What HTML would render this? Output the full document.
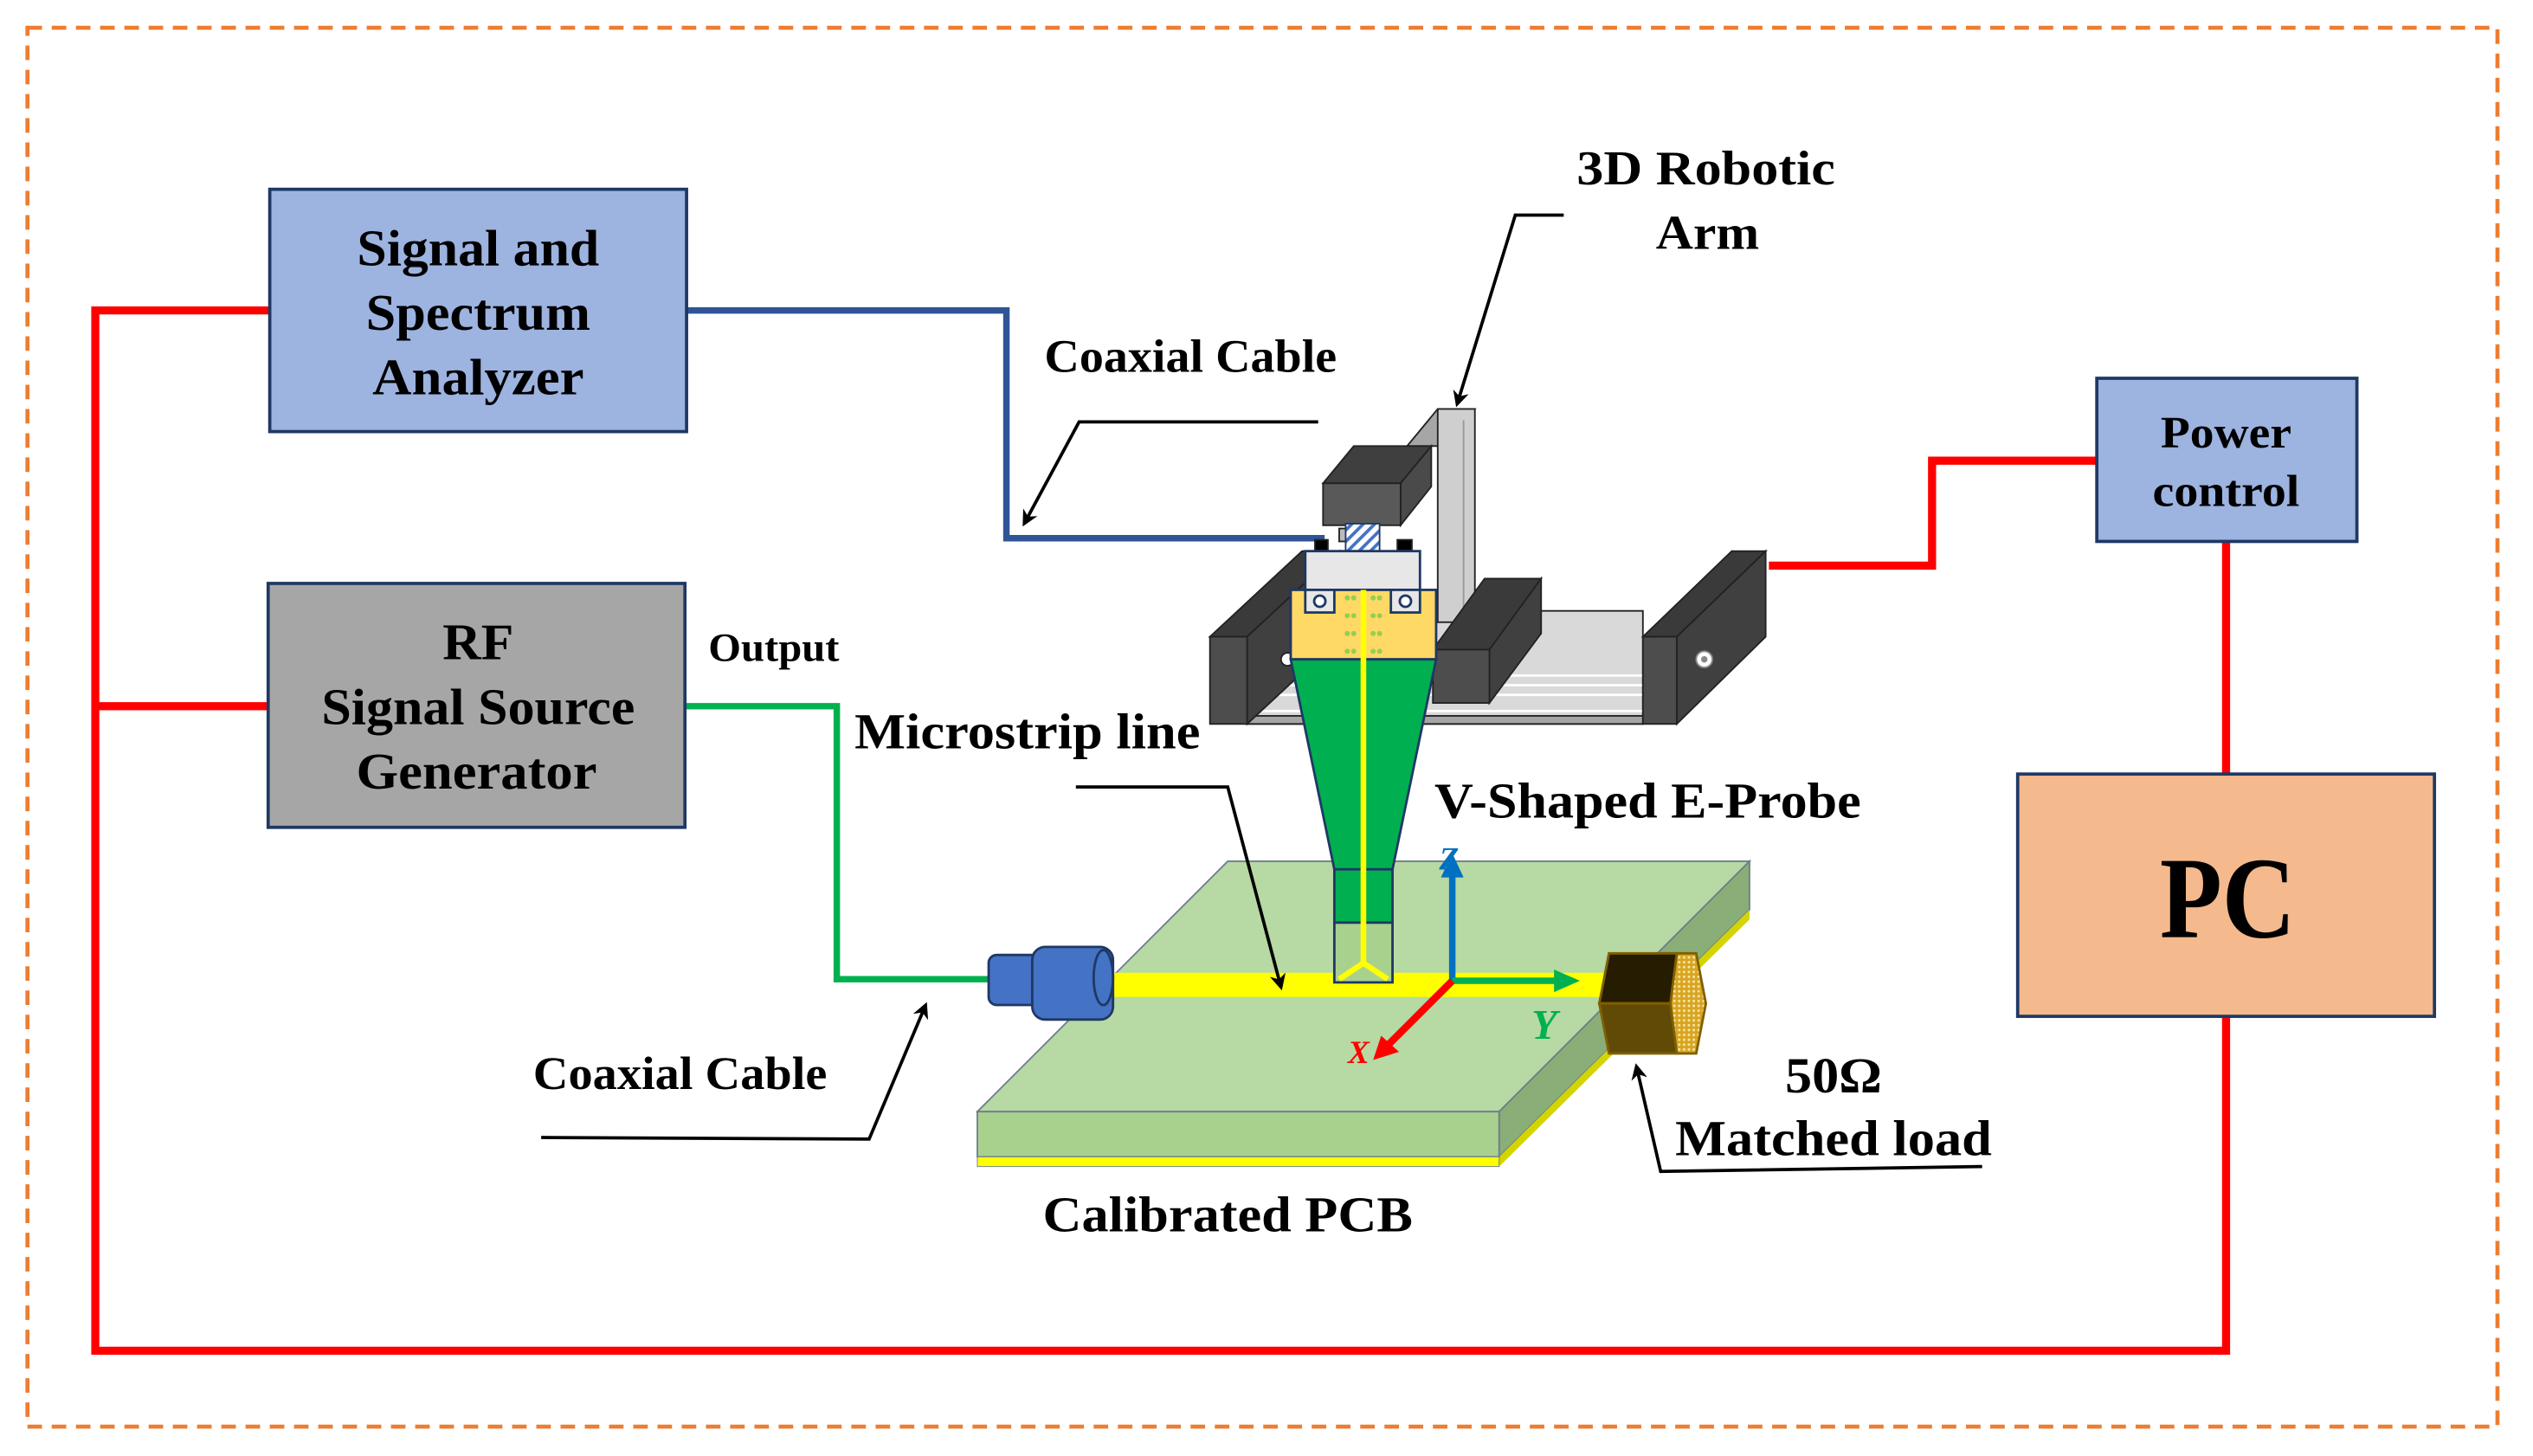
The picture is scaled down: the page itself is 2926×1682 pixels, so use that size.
<!DOCTYPE html>
<html><head><meta charset="utf-8"><style>
html,body{margin:0;padding:0;background:#fff}
svg{display:block}
text{font-family:"Liberation Serif",serif;font-weight:bold;fill:#000;text-anchor:middle}
</style></head><body>
<svg width="2926" height="1682" viewBox="0 0 1568 901" xmlns="http://www.w3.org/2000/svg">
<defs>
<marker id="ar" markerWidth="10" markerHeight="10" refX="8" refY="5" orient="auto" markerUnits="userSpaceOnUse"><path d="M0,0 L10,5 L0,10 L3,5 Z" fill="#000"/></marker>
<pattern id="hatch" width="5" height="5" patternUnits="userSpaceOnUse" patternTransform="rotate(45)"><rect width="5" height="5" fill="#fff"/><rect width="2" height="5" fill="#4472C4"/></pattern>
<pattern id="mesh" width="3" height="3" patternUnits="userSpaceOnUse"><rect width="3" height="3" fill="#D9A520"/><circle cx="1.5" cy="1.5" r="0.8" fill="#F5E3A8"/></pattern>
</defs>
<rect x="17" y="17" width="1529" height="866" fill="none" stroke="#ED7D31" stroke-width="2.5" stroke-dasharray="9,6"/>

<g fill="none" stroke="#FF0000" stroke-width="5">
<polyline points="167,192 59,192 59,836 1378,836 1378,629"/>
<line x1="59" y1="437" x2="166" y2="437"/>
<line x1="1378" y1="335" x2="1378" y2="479"/>
<polyline points="1298,285 1196,285 1196,350 1095,350"/>
</g>
<polyline points="425,192 623,192 623,333 820,333" fill="none" stroke="#2F5597" stroke-width="4"/>
<polyline points="424,437 518,437 518,606 614,606" fill="none" stroke="#00B050" stroke-width="4"/>

<rect x="167" y="117" width="258" height="150" fill="#9DB3E0" stroke="#1F3864" stroke-width="2"/>
<text x="296" y="164" font-size="32" textLength="150" lengthAdjust="spacingAndGlyphs">Signal and</text>
<text x="296" y="204" font-size="32" textLength="139" lengthAdjust="spacingAndGlyphs">Spectrum</text>
<text x="296" y="244" font-size="32" textLength="131" lengthAdjust="spacingAndGlyphs">Analyzer</text>
<rect x="166" y="361" width="258" height="151" fill="#A6A6A6" stroke="#1F3864" stroke-width="2"/>
<text x="296" y="408" font-size="32" textLength="44" lengthAdjust="spacingAndGlyphs">RF</text>
<text x="296" y="448" font-size="32" textLength="194" lengthAdjust="spacingAndGlyphs">Signal Source</text>
<text x="295" y="488" font-size="32" textLength="149" lengthAdjust="spacingAndGlyphs">Generator</text>
<rect x="1298" y="234" width="161" height="101" fill="#9DB3E0" stroke="#1F3864" stroke-width="2"/>
<text x="1378" y="277" font-size="28" textLength="81" lengthAdjust="spacingAndGlyphs">Power</text>
<text x="1378" y="313" font-size="28" textLength="91" lengthAdjust="spacingAndGlyphs">control</text>
<rect x="1249" y="479" width="258" height="150" fill="#F4B98D" stroke="#1F3864" stroke-width="2"/>
<text x="1379" y="580" font-size="72" textLength="84" lengthAdjust="spacingAndGlyphs">PC</text>

<g stroke="#222" stroke-width="1">
<polygon points="772,448 1017,448 1017,378 772,378" fill="#D9D9D9"/>
<g stroke="#fff" stroke-width="1.5"><line x1="772" y1="418" x2="1017" y2="418"/><line x1="772" y1="424" x2="1017" y2="424"/><line x1="772" y1="430" x2="1017" y2="430"/><line x1="772" y1="440" x2="1017" y2="440"/></g>
<rect x="772" y="443" width="245" height="5" fill="#A6A6A6"/>
<polygon points="749,394 806,341 829,341 772,394" fill="#3A3A3A"/>
<polygon points="772,394 829,341 829,395 772,448" fill="#404040"/>
<rect x="749" y="394" width="23" height="54" fill="#4D4D4D"/>
<circle cx="797" cy="408" r="4" fill="#fff"/>
<polygon points="871,276 890,253 913,253 894,276" fill="#A6A6A6"/>
<rect x="890" y="253" width="23" height="132" fill="#CFCFCF"/>
<line x1="906" y1="260" x2="906" y2="385" stroke="#999"/>
<polygon points="887,402 919,358 954,358 922,402" fill="#3A3A3A"/>
<polygon points="922,402 954,358 954,392 922,435" fill="#404040"/>
<rect x="887" y="402" width="35" height="33" fill="#4D4D4D"/>
<polygon points="1017,394 1072,341 1093,341 1038,394" fill="#3A3A3A"/>
<polygon points="1038,394 1093,341 1093,394 1038,448" fill="#404040"/>
<rect x="1017" y="394" width="21" height="54" fill="#4D4D4D"/>
<circle cx="1055" cy="408" r="5" fill="#fff" stroke="#888"/><circle cx="1055" cy="408" r="2" fill="#888" stroke="none"/>
<polygon points="819,299 838,276 886,276 867,299" fill="#3F3F3F"/>
<polygon points="867,299 886,276 886,301 867,325" fill="#4A4A4A"/>
<rect x="819" y="299" width="48" height="26" fill="#595959"/>
<rect x="829" y="327" width="5" height="8" fill="#bbb"/>
<rect x="833" y="324" width="21" height="17" fill="url(#hatch)" stroke="#1F3864"/>
<rect x="814" y="334" width="8" height="7" fill="#000"/>
<rect x="865" y="334" width="9" height="7" fill="#000"/>
</g>
<g stroke="#1F3864" stroke-width="1.5">
<rect x="808" y="341" width="71" height="24" fill="#E7E7E7"/>
<rect x="799" y="365" width="90" height="43" fill="#FFD966"/>
<rect x="808" y="365" width="18" height="14" fill="#E7E7E7"/>
<rect x="861" y="365" width="18" height="14" fill="#E7E7E7"/>
<circle cx="817" cy="372" r="3.5" fill="#fff"/><circle cx="870" cy="372" r="3.5" fill="#fff"/>
</g>
<g fill="#92D050">
<circle cx="834" cy="370" r="1.6"/><circle cx="838" cy="370" r="1.6"/><circle cx="850" cy="370" r="1.6"/><circle cx="854" cy="370" r="1.6"/>
<circle cx="834" cy="381" r="1.6"/><circle cx="838" cy="381" r="1.6"/><circle cx="850" cy="381" r="1.6"/><circle cx="854" cy="381" r="1.6"/>
<circle cx="834" cy="392" r="1.6"/><circle cx="838" cy="392" r="1.6"/><circle cx="850" cy="392" r="1.6"/><circle cx="854" cy="392" r="1.6"/>
<circle cx="834" cy="403" r="1.6"/><circle cx="838" cy="403" r="1.6"/><circle cx="850" cy="403" r="1.6"/><circle cx="854" cy="403" r="1.6"/>
</g>

<polygon points="605,688 760,533 1083,533 928,688" fill="#B7D9A3" stroke="#6F7F8F" stroke-width="1"/>
<polygon points="928,688 1083,533 1083,563 928,716" fill="#8AAE78" stroke="#6F7F8F" stroke-width="1"/>
<polygon points="928,716 1083,563 1083,569 928,722" fill="#D4D400"/>
<rect x="605" y="688" width="323" height="28" fill="#A9D18E" stroke="#6F7F8F" stroke-width="1"/>
<rect x="605" y="716" width="323" height="6" fill="#FFFF00" stroke="#6F7F8F" stroke-width="0.5"/>
<polygon points="686,602 1000,602 1000,617 671,617" fill="#FFFF00"/>

<g stroke="#1F3864" stroke-width="1.5">
<polygon points="799,408 889,408 862,538 826,538" fill="#00B050"/>
<rect x="826" y="538" width="36" height="33" fill="#00B050"/>
<rect x="826" y="571" width="36" height="37" fill="#A9D18E"/>
</g>
<line x1="844" y1="365" x2="844" y2="596" stroke="#FFFF00" stroke-width="3.5"/>
<polyline points="829,606 844,596 859,606" fill="none" stroke="#FFFF00" stroke-width="3.5"/>

<g stroke="#1F3864" stroke-width="1.5" fill="#4472C4">
<rect x="612" y="591" width="32" height="31" rx="5"/>
<rect x="639" y="586" width="50" height="45" rx="8"/>
<ellipse cx="683" cy="605" rx="6" ry="17" fill="none"/>
</g>

<line x1="899" y1="607" x2="899" y2="540" stroke="#0070C0" stroke-width="4"/>
<polygon points="892,543 899,528 906,543" fill="#0070C0"/>
<line x1="899" y1="607" x2="966" y2="607" stroke="#00B050" stroke-width="4"/>
<polygon points="962,600 978,607 962,614" fill="#00B050"/>
<line x1="899" y1="607" x2="860" y2="646" stroke="#FF0000" stroke-width="4.5"/>
<polygon points="855,641 850,656 866,651" fill="#FF0000"/>
<text x="897" y="538" font-size="20" font-style="italic" font-weight="normal" style="fill:#0070C0">Z</text>
<text x="956" y="643" font-size="26" font-style="italic" font-weight="normal" style="fill:#00B050">Y</text>
<text x="841" y="658" font-size="20" font-style="italic" font-weight="normal" style="fill:#FF0000">X</text>

<g stroke="#7F6000" stroke-width="1.5">
<polygon points="990,621 996,590 1038,590 1038,621" fill="#261C02"/>
<polygon points="990,621 1038,621 1038,652 996,652" fill="#604A06"/>
<polygon points="1038,590 1050,590 1056,621 1050,652 1038,652 1034,621" fill="url(#mesh)"/>
</g>

<g fill="none" stroke="#000" stroke-width="2">
<polyline points="816,261 668,261 634,324" marker-end="url(#ar)"/>
<polyline points="968,133 938,133 902,250" marker-end="url(#ar)"/>
<polyline points="666,487 760,487 793,611" marker-end="url(#ar)"/>
<polyline points="335,704 538,705 573,622" marker-end="url(#ar)"/>
<polyline points="1227,722 1028,725 1013,660" marker-end="url(#ar)"/>
</g>
<text x="737" y="230" font-size="29" textLength="181" lengthAdjust="spacingAndGlyphs">Coaxial Cable</text>
<text x="1056" y="114" font-size="30" textLength="160" lengthAdjust="spacingAndGlyphs">3D Robotic</text>
<text x="1057" y="154" font-size="30" textLength="64" lengthAdjust="spacingAndGlyphs">Arm</text>
<text x="479" y="409" font-size="25" textLength="81" lengthAdjust="spacingAndGlyphs">Output</text>
<text x="636" y="463" font-size="31" textLength="214" lengthAdjust="spacingAndGlyphs">Microstrip line</text>
<text x="1020" y="506" font-size="31" textLength="264" lengthAdjust="spacingAndGlyphs">V-Shaped E-Probe</text>
<text x="421" y="674" font-size="29" textLength="182" lengthAdjust="spacingAndGlyphs">Coaxial Cable</text>
<text x="1135" y="676" font-size="31" textLength="60" lengthAdjust="spacingAndGlyphs">50Ω</text>
<text x="1135" y="715" font-size="31" textLength="196" lengthAdjust="spacingAndGlyphs">Matched load</text>
<text x="760" y="762" font-size="31" textLength="229" lengthAdjust="spacingAndGlyphs">Calibrated PCB</text>
</svg>
</body></html>
